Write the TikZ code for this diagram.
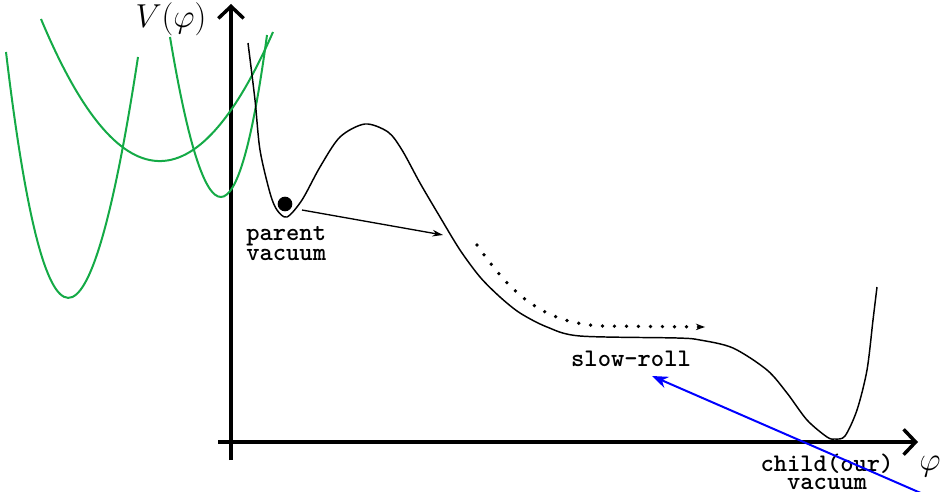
\documentclass[tikz,border=0pt]{standalone}
\usepackage{fontspec}
\usetikzlibrary{arrows.meta}
\definecolor{curvegreen}{RGB}{20,170,70}
\tikzset{
  axisline/.style={line width=2.6pt, -{Straight Barb[length=9pt,width=19pt,line width=2.6pt]}},
  potential/.style={line width=1.1pt},
  greencurve/.style={draw=curvegreen, line width=1.5pt},
  lbl/.style={font=\ttfamily\bfseries\fontsize{19}{15}\selectfont, inner sep=0pt},
  mathlbl/.style={font=\fontsize{27}{30}\selectfont, inner sep=0pt},
  tunnel/.style={line width=1pt, -{Stealth[length=8pt,width=5pt]}},
  rollarrow/.style={line width=2.8pt, line cap=round, dash pattern=on 0pt off 9pt, -{Stealth[length=7pt,width=5pt,line width=0pt]}},
  bluearrow/.style={draw=blue, line width=1.5pt, -{Stealth[length=12pt,width=9pt]}}
}
\begin{document}
\begin{tikzpicture}[x=0.75pt,y=-0.75pt]
\useasboundingbox (0,0) rectangle (942,492);
% axes
\coordinate (yb) at (231,460);
\coordinate (yt) at (231,4);
\coordinate (xl) at (218,442);
\coordinate (xr) at (918,442);
\draw[axisline] (yb) -- (yt);
\draw[axisline] (xl) -- (xr);
\node[mathlbl, anchor=base] (vlab) at (171,28) {$V(\varphi)$};
\node[mathlbl, anchor=base] (phlab) at (930,470) {$\varphi$};
% green parabolas
\coordinate (g1a) at (6,52);
\coordinate (g1b) at (138,57);
\coordinate (g2a) at (41,19);
\coordinate (g2b) at (273,32);
\coordinate (g3a) at (170,37);
\coordinate (g3b) at (267,35);
\draw[greencurve] (g1a) .. controls (44.7,378) and (88.7,380) .. (g1b);
\draw[greencurve] (g2a) .. controls (118.3,204) and (195.7,208.3) .. (g2b);
\draw[greencurve] (g3a) .. controls (205.7,251) and (238,250.3) .. (g3b);
% potential curve
\draw[potential] plot[smooth, tension=0.5] coordinates {
 (248,43) (255,100) (260,150) (270,193) (277,210) (287,217) (302,200) (320,167)
 (340,137) (365,124) (388,132) (402,150) (420,183) (440,217) (460,250) (480,277)
 (500,297) (520,313) (547,327) (580,336) (677,338) (700,340) (733,348)
 (767,370) (787,393) (807,420) (827,437) (835,439) (845,436) (857,410) (867,370)
 (873,320) (877,287)};
% ball
\node[circle, fill=black, minimum size=11pt, inner sep=0pt] (ball) at (285,204) {};
% tunnelling arrow
\coordinate (ta) at (302,210);
\coordinate (tb) at (443,235);
\draw[tunnel] (ta) -- (tb);
% slow roll dotted arrow
\coordinate (ra) at (477,245);
\coordinate (rm) at (600,326);
\coordinate (rb) at (705,327);
\draw[rollarrow] (ra) .. controls (510,292) and (540,322) .. (rm) -- (rb);
% labels
\node[lbl, align=left, anchor=north west] (parent) at (246,226) {parent\\vacuum};
\node[lbl, anchor=base] (slow) at (631,366) {slow-roll};
\node[lbl, align=center, anchor=north, font=\ttfamily\bfseries\fontsize{19}{13.5}\selectfont] (child) at (827,454) {child(our)\\vacuum};
% blue arrow
\coordinate (bs) at (923,494);
\coordinate (bt) at (652,376);
\draw[bluearrow] (bs) -- (bt);
\end{tikzpicture}
\end{document}
